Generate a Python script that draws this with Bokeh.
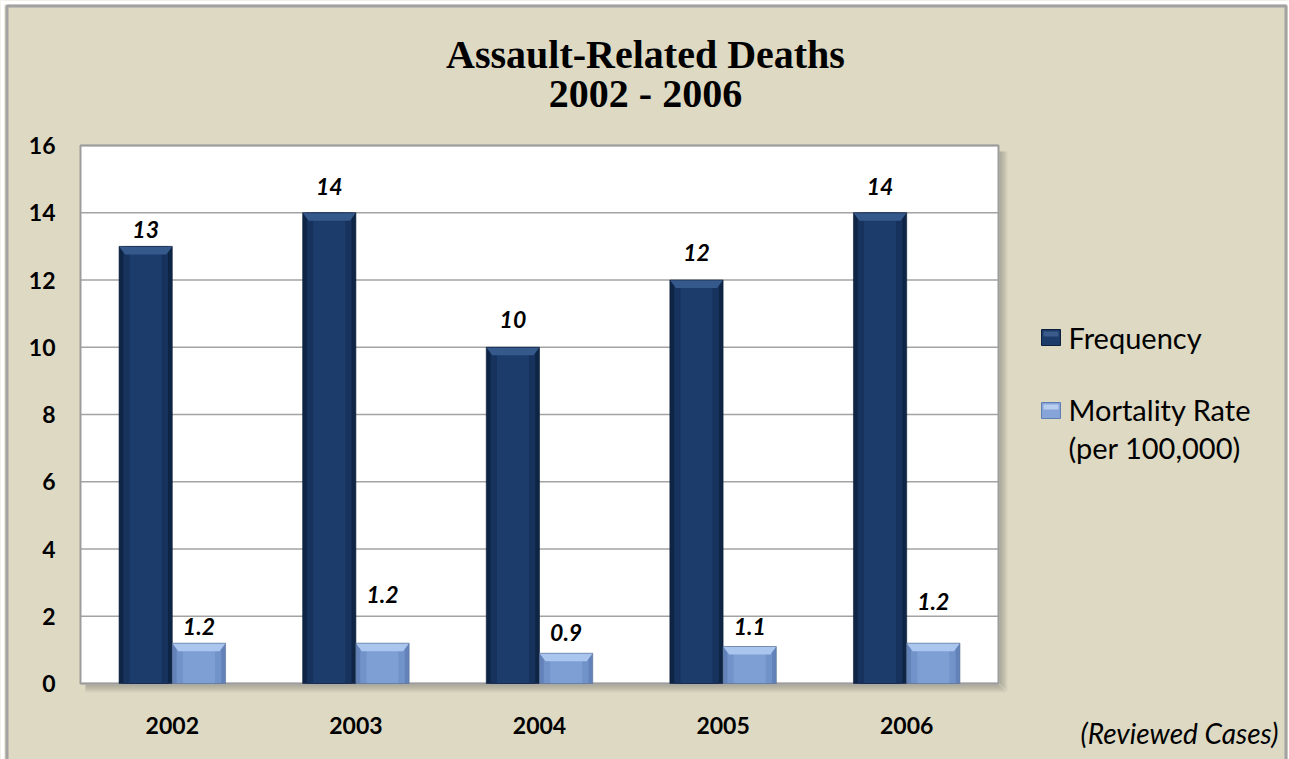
from bokeh.plotting import figure
from bokeh.models import ColumnDataSource, Range1d
from bokeh.core.properties import value
from bokeh.embed import file_html
from bokeh.resources import INLINE

# ---- data -------------------------------------------------------------
years = ["2002", "2003", "2004", "2005", "2006"]
frequency = [13, 14, 10, 12, 14]
mortality_rate = [1.2, 1.2, 0.9, 1.1, 1.2]
y_ticks = [0, 2, 4, 6, 8, 10, 12, 14, 16]
legend_labels = ["Frequency", "Mortality Rate", "(per 100,000)"]
title_lines = ["Assault-Related Deaths", "2002 - 2006"]
footnote = "(Reviewed Cases)"

# pixel gap between the top of each bar and the bottom of its value label
freq_label_gap = [8, 18, 19, 19, 18]
rate_label_gap = [8, 40, 12, 12, 33]

# ---- layout constants (pixels) ----------------------------------------
W, H = 1289, 759
PLOT_L, PLOT_R, PLOT_T, PLOT_B = 80, 998, 145, 683
Y_MAX = 16
BG = "#DDD9C3"
BAR_W = 0.29
SHIFT = 0.145
DIGIT_HALF = 8.5          # half the height of a 23px digit

ky = (PLOT_B - PLOT_T) / Y_MAX
kx = (PLOT_R - PLOT_L) / len(years)
BEVEL = 8 / ky            # height of the lit top facet
INSET = 6 / kx            # horizontal inset of the facet's lower edge

centers = [i + 0.5 for i in range(len(years))]
fx = [c - SHIFT for c in centers]
rx = [c + SHIFT for c in centers]


def facets(xs, tops):
    """Trapezoid outlines for the bevelled top of each bar."""
    h = BAR_W / 2
    px = [[x - h, x + h, x + h - INSET, x - h + INSET] for x in xs]
    py = [[t, t, t - BEVEL, t - BEVEL] for t in tops]
    return px, py


f_px, f_py = facets(fx, frequency)
r_px, r_py = facets(rx, mortality_rate)

src = ColumnDataSource(dict(
    fx=fx, rx=rx, cx=centers,
    year=years,
    freq=frequency,
    rate=mortality_rate,
    freq_txt=[str(v) for v in frequency],
    rate_txt=[f"{v:.1f}" for v in mortality_rate],
    freq_off=[-(g + DIGIT_HALF) for g in freq_label_gap],
    rate_off=[-(g + DIGIT_HALF) for g in rate_label_gap],
))

p = figure(
    width=W, height=H,
    x_range=Range1d(-PLOT_L / kx, (W - PLOT_L) / kx),
    y_range=Range1d(-(H - PLOT_B) / ky, PLOT_B / ky),
    x_axis_type=None, y_axis_type=None, min_border=0,
    output_backend="svg", toolbar_location=None,
    background_fill_color=BG, border_fill_color=BG, outline_line_color=None,
)
# pixel space for the surrounding decorations
p.extra_x_ranges = {"px": Range1d(0, W)}
p.extra_y_ranges = {"px": Range1d(H, 0)}
PX = dict(x_range_name="px", y_range_name="px")

# ---- outer frame ------------------------------------------------------
p.quad(left=[0, 0, 1287], right=[4, W, W], top=[0, 0, 0], bottom=[H, 4, H],
       fill_color="white", line_color=None, **PX)
p.quad(left=6.5, right=1285.5, top=5.5, bottom=H + 20,
       fill_color=None, line_color="#A2A2A2", line_width=3, **PX)

# ---- plot area with drop shadow ---------------------------------------
for i in range(8):
    a = 0.40 * (1 - i / 8)
    p.quad(left=PLOT_R + 1 + i, right=PLOT_R + 2 + i, top=PLOT_T + 6, bottom=PLOT_B + 1 + i,
           fill_color="#555555", fill_alpha=a, line_color=None, **PX)
    p.quad(left=PLOT_L + 5, right=PLOT_R + 1 + i, top=PLOT_B + 1 + i, bottom=PLOT_B + 2 + i,
           fill_color="#555555", fill_alpha=a, line_color=None, **PX)

p.quad(left=0, right=len(years), bottom=0, top=Y_MAX, fill_color="white", line_color=None)
p.segment(x0=0, x1=len(years), y0=y_ticks, y1=y_ticks, line_color="#A3A3A3", line_width=1.5)
p.quad(left=0, right=len(years), bottom=0, top=Y_MAX, fill_color=None,
       line_color="#9C9C9C", line_width=2)

# ---- bars (layered for a bevelled look) -------------------------------
p.vbar(x="fx", top="freq", width=BAR_W, source=src, fill_color="#0E2545", line_color=None)
p.vbar(x="fx", top="freq", width=BAR_W * 0.84, source=src, fill_color="#16325D", line_color=None)
p.vbar(x="fx", top="freq", width=BAR_W * 0.6, source=src, fill_color="#1C3D6C", line_color=None)
p.patches(xs=f_px, ys=f_py, fill_color="#36598B", line_color=None)
p.vbar(x="fx", top="freq", width=BAR_W, source=src, fill_color=None,
       line_color="#0B1D38", line_width=1, line_alpha=0.6)

p.vbar(x="rx", top="rate", width=BAR_W, source=src, fill_color="#6282B9", line_color=None)
p.vbar(x="rx", top="rate", width=BAR_W * 0.84, source=src, fill_color="#7293C9", line_color=None)
p.vbar(x="rx", top="rate", width=BAR_W * 0.6, source=src, fill_color="#7E9FD4", line_color=None)
p.patches(xs=r_px, ys=r_py, fill_color="#AAC6EE", line_color=None)
p.vbar(x="rx", top="rate", width=BAR_W, source=src, fill_color=None,
       line_color="#5A6F90", line_width=1, line_alpha=0.6)

# ---- value labels -----------------------------------------------------
lab = dict(text_align="center", text_baseline="middle", text_font=value("Lato"),
           text_font_style="bold italic", text_font_size="23px", text_color="black")
p.text(x="fx", y="freq", text="freq_txt", y_offset="freq_off", source=src, **lab)
p.text(x="rx", y="rate", text="rate_txt", y_offset="rate_off", source=src, **lab)

# ---- axis labels ------------------------------------------------------
tick = dict(text_baseline="middle", text_font=value("Lato"), text_font_style="bold",
            text_font_size="23px", text_color="black")
p.text(x=55, y=y_ticks, text=[str(t) for t in y_ticks], text_align="right",
       x_range_name="px", **tick)
p.text(x="cx", y=725, text="year", source=src, text_align="center",
       y_range_name="px", **tick)

# ---- title ------------------------------------------------------------
p.text(x=645, y=[54, 93], text=title_lines, text_align="center", text_baseline="middle",
       text_font=value("Liberation Serif"), text_font_style="bold",
       text_font_size="40px", text_color="black", **PX)

# ---- legend -----------------------------------------------------------
p.quad(left=1041, right=1060, top=329, bottom=345, fill_color="#1D3B69",
       line_color="#0C2140", line_width=1, **PX)
p.quad(left=1043, right=1058, top=331, bottom=336, fill_color="#3B5B8A",
       line_color=None, **PX)
p.quad(left=1041, right=1060, top=402, bottom=418, fill_color="#86A4D8",
       line_color="#5E7FB6", line_width=1, **PX)
p.quad(left=1043, right=1058, top=404, bottom=409, fill_color="#B8CEEF",
       line_color=None, **PX)
p.text(x=1068, y=[336.5, 408.5, 447], text=legend_labels, text_align="left",
       text_baseline="middle", text_font=value("Lato"), text_font_size="29px",
       text_color="black", **PX)

p.text(x=1278, y=732, text=[footnote], text_align="right", text_baseline="middle",
       text_font=value("Lato"), text_font_style="italic", text_font_size="28px",
       text_color="black", **PX)

open("out.html", "w").write(file_html(p, INLINE))
